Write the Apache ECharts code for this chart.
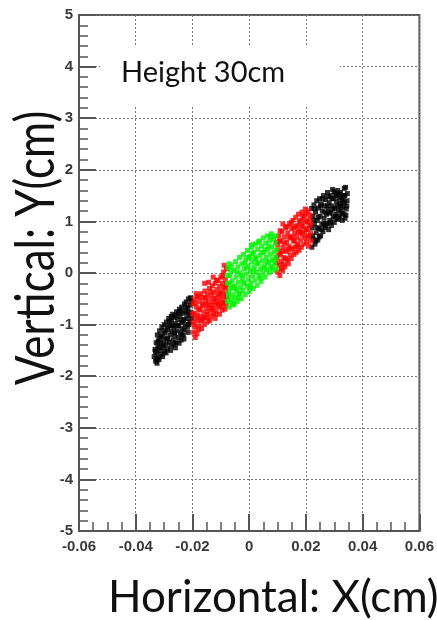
<!DOCTYPE html>
<html>
<head>
<meta charset="utf-8">
<script src="https://cdn.jsdelivr.net/npm/echarts@6/dist/echarts.min.js"></script>
<style>
  html, body { margin: 0; padding: 0; background: #fff; }
  #chart { width: 437px; height: 620px; }
</style>
</head>
<body>
<div id="chart"></div>
<script>
// Beam spot positions (cm) at a height of 30 cm, grouped by horizontal band
const blackLeft = [
  [-0.0335,-1.62],[-0.0332,-1.48],[-0.0330,-1.71],[-0.0328,-1.35],[-0.0326,-1.55],[-0.0324,-1.20],
  [-0.0322,-1.42],[-0.0320,-1.64],[-0.0318,-1.28],[-0.0316,-1.12],[-0.0314,-1.50],[-0.0312,-1.36],
  [-0.0310,-1.58],[-0.0308,-1.05],[-0.0306,-1.22],[-0.0304,-1.44],[-0.0302,-1.30],[-0.0300,-1.00],
  [-0.0298,-1.52],[-0.0296,-1.16],[-0.0294,-1.38],[-0.0292,-0.95],[-0.0290,-1.26],[-0.0288,-1.47],
  [-0.0286,-1.10],[-0.0284,-0.88],[-0.0282,-1.34],[-0.0280,-1.02],[-0.0278,-1.20],[-0.0276,-1.41],
  [-0.0274,-0.92],[-0.0272,-1.14],[-0.0270,-0.80],[-0.0268,-1.30],[-0.0266,-1.06],[-0.0264,-0.86],
  [-0.0262,-1.22],[-0.0260,-0.98],[-0.0258,-1.35],[-0.0256,-0.75],[-0.0254,-1.12],[-0.0252,-0.90],
  [-0.0250,-1.25],[-0.0248,-1.02],[-0.0246,-0.70],[-0.0244,-0.84],[-0.0242,-1.16],[-0.0240,-0.96],
  [-0.0238,-0.66],[-0.0236,-1.08],[-0.0234,-0.78],[-0.0232,-1.20],[-0.0230,-0.90],[-0.0228,-0.60],
  [-0.0226,-1.00],[-0.0224,-0.74],[-0.0222,-0.56],[-0.0220,-0.88],[-0.0218,-1.05],[-0.0216,-0.68],
  [-0.0214,-0.50],[-0.0212,-0.82],[-0.0210,-0.95],[-0.0208,-0.62],[-0.0206,-0.76],[-0.0204,-0.55],
  [-0.0230,-1.28],[-0.0215,-1.15],[-0.0240,-1.30],[-0.0260,-1.45],[-0.0325,-1.75],[-0.0318,-1.68],
  [-0.0331,-1.52],[-0.0327,-1.66],[-0.0321,-1.32],[-0.0317,-1.45],[-0.0311,-1.22],[-0.0305,-1.62],
  [-0.0299,-1.12],[-0.0293,-1.55],[-0.0287,-1.28],[-0.0281,-0.94],[-0.0277,-1.50],[-0.0271,-1.02],
  [-0.0265,-1.38],[-0.0259,-0.82],[-0.0253,-1.02],[-0.0247,-1.36],[-0.0241,-0.74],[-0.0235,-0.92],
  [-0.0229,-1.10],[-0.0223,-0.66],[-0.0219,-0.78],[-0.0213,-1.00],[-0.0207,-0.48],[-0.0203,-0.88],
  [-0.0275,-0.84],[-0.0289,-1.05],[-0.0303,-1.40],[-0.0263,-1.16],[-0.0249,-0.78],[-0.0237,-1.20]
];
const redLeft = [
  [-0.0198,-0.60],[-0.0197,-0.95],[-0.0196,-1.15],[-0.0194,-0.78],[-0.0192,-0.50],[-0.0190,-1.05],
  [-0.0188,-0.88],[-0.0186,-0.66],[-0.0184,-1.18],[-0.0182,-0.45],[-0.0180,-0.92],[-0.0178,-0.72],
  [-0.0176,-1.02],[-0.0174,-0.55],[-0.0172,-0.84],[-0.0170,-0.40],[-0.0168,-1.08],[-0.0166,-0.64],
  [-0.0164,-0.90],[-0.0162,-0.48],[-0.0160,-0.76],[-0.0158,-1.00],[-0.0156,-0.35],[-0.0154,-0.58],
  [-0.0152,-0.86],[-0.0150,-0.68],[-0.0148,-0.42],[-0.0146,-0.94],[-0.0144,-0.52],[-0.0142,-0.74],
  [-0.0140,-0.30],[-0.0138,-0.62],[-0.0136,-0.84],[-0.0134,-0.44],[-0.0132,-0.70],[-0.0130,-0.25],
  [-0.0128,-0.56],[-0.0126,-0.78],[-0.0124,-0.38],[-0.0122,-0.62],[-0.0120,-0.20],[-0.0118,-0.48],
  [-0.0116,-0.72],[-0.0114,-0.32],[-0.0112,-0.55],[-0.0110,-0.15],[-0.0108,-0.42],[-0.0106,-0.64],
  [-0.0104,-0.26],[-0.0102,-0.50],[-0.0100,-0.08],[-0.0098,-0.36],[-0.0096,-0.58],[-0.0094,-0.20],
  [-0.0092,-0.44],[-0.0090,0.02],[-0.0088,-0.28],[-0.0086,-0.52],[-0.0084,-0.12],[-0.0082,-0.38],
  [-0.0080,0.08],[-0.0079,-0.22],[-0.0078,-0.46],[-0.0088,0.15],[-0.0085,-0.70],[-0.0095,-0.72],
  [-0.0105,-0.80],[-0.0120,-0.88],[-0.0190,-1.25],
  [-0.0199,-0.80],[-0.0195,-1.00],[-0.0189,-0.58],[-0.0183,-0.82],[-0.0179,-1.10],[-0.0173,-0.70],
  [-0.0169,-0.92],[-0.0163,-0.60],[-0.0159,-0.86],[-0.0155,-0.48],[-0.0149,-0.80],[-0.0145,-0.62],
  [-0.0139,-0.92],[-0.0135,-0.36],[-0.0129,-0.68],[-0.0125,-0.50],[-0.0119,-0.80],[-0.0115,-0.14],
  [-0.0109,-0.60],[-0.0103,-0.40],[-0.0099,-0.66],[-0.0093,-0.05],[-0.0089,-0.58],[-0.0083,-0.28],
  [-0.0081,-0.62],[-0.0187,-0.40],[-0.0177,-0.46],[-0.0157,-0.20],[-0.0143,-0.18],[-0.0127,-0.08]
];
const greenCenter = [
  [-0.0076,-0.55],[-0.0075,-0.20],[-0.0074,0.10],[-0.0072,-0.38],[-0.0070,-0.66],[-0.0068,-0.05],
  [-0.0066,-0.30],[-0.0064,-0.52],[-0.0062,0.15],[-0.0060,-0.15],[-0.0058,-0.42],[-0.0056,-0.62],
  [-0.0054,0.05],[-0.0052,-0.25],[-0.0050,-0.48],[-0.0048,0.22],[-0.0046,-0.08],[-0.0044,-0.35],
  [-0.0042,-0.55],[-0.0040,0.12],[-0.0038,-0.18],[-0.0036,-0.40],[-0.0034,0.30],[-0.0032,0.00],
  [-0.0030,-0.28],[-0.0028,-0.50],[-0.0026,0.18],[-0.0024,-0.10],[-0.0022,-0.34],[-0.0020,0.36],
  [-0.0018,0.08],[-0.0016,-0.20],[-0.0014,-0.42],[-0.0012,0.26],[-0.0010,-0.02],[-0.0008,-0.26],
  [-0.0006,0.44],[-0.0004,0.14],[-0.0002,-0.12],[0.0000,-0.36],[0.0002,0.32],[0.0004,0.04],
  [0.0006,-0.20],[0.0008,0.50],[0.0010,0.22],[0.0012,-0.05],[0.0014,-0.30],[0.0016,0.40],
  [0.0018,0.12],[0.0020,-0.14],[0.0022,0.56],[0.0024,0.28],[0.0026,0.02],[0.0028,-0.24],
  [0.0030,0.46],[0.0032,0.18],[0.0034,-0.06],[0.0036,0.62],[0.0038,0.34],[0.0040,0.08],
  [0.0042,-0.16],[0.0044,0.52],[0.0046,0.24],[0.0048,0.00],[0.0050,0.68],[0.0052,0.40],
  [0.0054,0.14],[0.0056,-0.08],[0.0058,0.58],[0.0060,0.30],[0.0062,0.06],[0.0064,0.72],
  [0.0066,0.46],[0.0068,0.20],[0.0070,0.00],[0.0072,0.62],[0.0074,0.36],[0.0076,0.12],
  [0.0078,0.76],[0.0080,0.50],[0.0082,0.26],[0.0084,0.05],[0.0086,0.66],[0.0088,0.40],
  [0.0090,0.18],[0.0092,0.58],[0.0094,0.30],[0.0096,0.08],
  [-0.0073,-0.45],[-0.0069,-0.20],[-0.0065,0.05],[-0.0061,-0.58],[-0.0057,-0.28],[-0.0053,-0.60],
  [-0.0047,-0.30],[-0.0043,0.02],[-0.0039,-0.48],[-0.0033,-0.40],[-0.0027,-0.05],[-0.0021,-0.18],
  [-0.0015,0.20],[-0.0009,0.10],[-0.0003,0.30],[0.0003,-0.28],[0.0009,0.38],[0.0015,0.05],
  [0.0021,0.30],[0.0027,0.20],[0.0033,0.60],[0.0039,-0.10],[0.0045,0.40],[0.0051,0.10],
  [0.0057,0.45],[0.0063,0.22],[0.0069,0.52],[0.0075,0.70],[0.0081,0.10],[0.0087,0.24],
  [0.0093,0.72],[0.0097,0.45],[-0.0077,-0.05],[-0.0071,0.18],[0.0011,0.55]
];
const redRight = [
  [0.0096,0.60],[0.0098,0.30],[0.0100,0.02],[0.0102,0.45],[0.0104,0.72],[0.0106,0.15],
  [0.0108,-0.05],[0.0110,0.38],[0.0112,0.62],[0.0114,0.22],[0.0116,0.80],[0.0118,0.05],
  [0.0120,0.50],[0.0122,0.30],[0.0124,0.70],[0.0126,0.12],[0.0128,0.88],[0.0130,0.42],
  [0.0132,0.60],[0.0134,0.25],[0.0136,0.78],[0.0138,0.18],[0.0140,0.52],[0.0142,0.95],
  [0.0144,0.35],[0.0146,0.68],[0.0148,0.28],[0.0150,0.86],[0.0152,0.46],[0.0154,1.02],
  [0.0156,0.62],[0.0158,0.36],[0.0160,0.78],[0.0162,0.50],[0.0164,1.08],[0.0166,0.40],
  [0.0168,0.70],[0.0170,0.92],[0.0172,0.55],[0.0174,1.14],[0.0176,0.44],[0.0178,0.82],
  [0.0180,0.64],[0.0182,1.02],[0.0184,0.50],[0.0186,1.18],[0.0188,0.74],[0.0190,0.90],
  [0.0192,0.56],[0.0194,1.10],[0.0196,0.68],[0.0198,1.24],[0.0200,0.84],[0.0202,0.60],
  [0.0204,1.00],[0.0206,0.72],[0.0208,1.20],[0.0210,0.52],[0.0212,0.92],[0.0214,1.12],
  [0.0216,0.78],[0.0218,0.62],
  [0.0097,0.20],[0.0101,0.55],[0.0105,0.35],[0.0109,0.82],[0.0113,0.08],[0.0117,0.42],
  [0.0121,0.16],[0.0125,0.58],[0.0129,0.28],[0.0133,0.90],[0.0137,0.45],[0.0141,0.70],
  [0.0145,0.48],[0.0149,0.98],[0.0153,0.70],[0.0157,0.88],[0.0161,0.62],[0.0165,0.90],
  [0.0169,0.52],[0.0173,0.80],[0.0177,1.00],[0.0181,0.78],[0.0185,0.92],[0.0189,1.10],
  [0.0193,0.80],[0.0197,1.00],[0.0201,1.16],[0.0205,0.86],[0.0209,0.70],[0.0213,1.04],
  [0.0217,0.95],[0.0107,0.62],[0.0119,0.95]
];
const blackRight = [
  [0.0220,1.25],[0.0221,0.50],[0.0222,0.88],[0.0224,1.10],[0.0226,0.66],[0.0228,1.32],
  [0.0230,0.95],[0.0232,0.56],[0.0234,1.18],[0.0236,0.78],[0.0238,1.40],[0.0240,1.02],
  [0.0242,0.64],[0.0244,1.26],[0.0246,0.86],[0.0248,1.44],[0.0250,1.10],[0.0252,0.72],
  [0.0254,1.34],[0.0256,0.94],[0.0258,1.20],[0.0260,0.80],[0.0262,1.50],[0.0264,1.06],
  [0.0266,1.30],[0.0268,0.88],[0.0270,1.42],[0.0272,1.14],[0.0274,0.96],[0.0276,1.56],
  [0.0278,1.24],[0.0280,0.84],[0.0282,1.36],[0.0284,1.02],[0.0286,1.50],[0.0288,1.18],
  [0.0290,0.92],[0.0292,1.30],[0.0294,1.62],[0.0296,1.08],[0.0298,1.44],[0.0300,0.98],
  [0.0302,1.26],[0.0304,1.54],[0.0306,1.14],[0.0308,1.38],[0.0310,1.04],[0.0312,1.60],
  [0.0314,1.22],[0.0316,1.46],[0.0318,1.10],[0.0320,1.34],[0.0322,1.56],[0.0324,1.20],
  [0.0326,1.42],[0.0328,1.02],[0.0330,1.28],[0.0332,1.50],[0.0334,1.14],[0.0336,1.36],
  [0.0338,1.06],[0.0342,1.24],[0.0345,1.40],[0.0340,1.66],[0.0335,1.64],
  [0.0223,0.72],[0.0227,1.02],[0.0231,1.24],[0.0235,0.62],[0.0239,0.88],[0.0243,1.08],
  [0.0247,0.70],[0.0251,1.30],[0.0255,0.84],[0.0259,1.44],[0.0263,0.96],[0.0267,1.18],
  [0.0271,0.92],[0.0275,1.30],[0.0279,1.48],[0.0283,1.16],[0.0287,0.98],[0.0291,1.44],
  [0.0295,1.24],[0.0299,1.58],[0.0303,1.10],[0.0307,1.50],[0.0311,1.30],[0.0315,1.06],
  [0.0319,1.52],[0.0323,1.30],[0.0327,1.16],[0.0331,1.40],[0.0337,1.50],[0.0341,1.12],
  [0.0344,1.30],[0.0346,1.54]
];

const xRange = [-0.06, 0.06];
const yRange = [-5, 5];
const plotLabel = 'Height 30cm';
const xTitle = 'Horizontal: X(cm)';
const yTitle = 'Vertical: Y(cm)';

const frameColor = '#555';
const gridColor = '#777';
const tickFont = { fontFamily: 'Liberation Sans', fontWeight: 'bold', fontSize: 15, color: '#3a3a3a' };
const titleFont = 'Lato';

function axisCommon(minorSplit) {
  return {
    axisLine: { show: true, onZero: false, lineStyle: { color: frameColor, width: 2 } },
    axisTick: { show: true, inside: true, length: 17, lineStyle: { color: frameColor, width: 2 } },
    minorTick: { show: true, splitNumber: minorSplit, length: 9, lineStyle: { color: frameColor, width: 1.5 } },
    splitLine: { show: true, lineStyle: { color: gridColor, width: 1, type: [2, 2] } },
    minorSplitLine: { show: false }
  };
}

function scatter(name, data, color) {
  return {
    name: name, type: 'scatter', data: data, symbol: 'rect', symbolSize: 5,
    itemStyle: { color: color }, silent: true, animation: false
  };
}

const chart = echarts.init(document.getElementById('chart'), null, { renderer: 'canvas' });
chart.setOption({
  backgroundColor: '#fff',
  animation: false,
  grid: {
    left: 79, right: 16, top: 15, bottom: 89,
    show: true, borderColor: frameColor, borderWidth: 2, backgroundColor: 'transparent'
  },
  xAxis: Object.assign({
    type: 'value', min: xRange[0], max: xRange[1], interval: 0.02,
    axisLabel: Object.assign({ margin: 8 }, tickFont)
  }, axisCommon(4)),
  yAxis: Object.assign({
    type: 'value', min: yRange[0], max: yRange[1], interval: 1,
    axisLabel: Object.assign({ margin: 6 }, tickFont)
  }, axisCommon(5)),
  series: [
    scatter('black-left', blackLeft, '#000'),
    scatter('black-right', blackRight, '#000'),
    scatter('red-left', redLeft, '#ff0000'),
    scatter('red-right', redRight, '#ff0000'),
    scatter('green', greenCenter, '#00f400')
  ],
  graphic: [
    { type: 'rect', z: 10, shape: { x: 100, y: 47, width: 240, height: 59 }, style: { fill: '#fff' }, silent: true },
    { type: 'text', z: 11, x: 121, y: 87,
      style: { text: plotLabel, font: '29px ' + titleFont, fill: '#111', align: 'left', verticalAlign: 'bottom' } },
    { type: 'text', z: 11, x: 108, y: 620,
      style: { text: xTitle, font: '44px ' + titleFont, fill: '#111', align: 'left', verticalAlign: 'bottom' } },
    { type: 'text', z: 11, x: 36, y: 248, rotation: Math.PI / 2, scaleY: 1.25,
      style: { text: yTitle, font: '44px ' + titleFont, fill: '#111', align: 'center', verticalAlign: 'middle' } }
  ]
});
</script>
</body>
</html>
